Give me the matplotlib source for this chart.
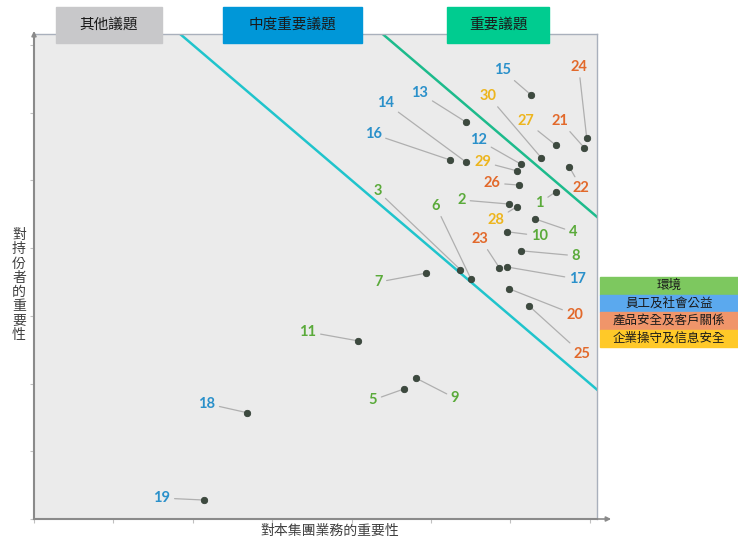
import matplotlib
matplotlib.use("Agg")
import matplotlib.pyplot as plt
from matplotlib.patches import Rectangle

plt.rcParams['font.family'] = ['Noto Sans CJK TC', 'DejaVu Sans']

# ---- data ----
issue_ids = list(range(1, 31))
business_importance = [6.57, 5.98, 5.37, 6.31, 4.66, 5.50, 4.94, 6.13, 4.81, 5.96,
                       4.08, 6.13, 5.44, 5.44, 6.26, 5.24, 5.96, 2.68, 2.14, 5.98,
                       6.93, 6.74, 5.86, 6.96, 6.23, 6.11, 6.57, 6.08, 6.08, 6.39]
stakeholder_importance = [4.83, 4.65, 3.68, 4.43, 1.92, 3.55, 3.63, 3.96, 2.08, 4.24,
                          2.63, 5.24, 5.86, 5.27, 6.26, 5.30, 3.72, 1.57, 0.28, 3.40,
                          5.48, 5.20, 3.71, 5.63, 3.15, 4.93, 5.52, 4.61, 5.14, 5.33]
# category index per issue: 0 環境, 1 員工及社會公益, 2 產品安全及客戶關係, 3 企業操守及信息安全
issue_category = [0] * 11 + [1] * 8 + [2] * 7 + [3] * 4
category_names = ['環境', '員工及社會公益', '產品安全及客戶關係', '企業操守及信息安全']
tier_names = ['其他議題', '中度重要議題', '重要議題']
threshold_sums = [9.0, 11.55]   # x + y boundaries between tiers
x_title = '對本集團業務的重要性'
y_title = '對持份者的重要性'

# ---- style / layout ----
label_colors = ['#5AAA3A', '#2A90CA', '#E2692B', '#EDB51E']
legend_colors = ['#7DC85F', '#5BA9EE', '#F0956A', '#FFC928']
tier_colors = ['#C8C8CA', '#0097D8', '#00CC90']
line_colors = ['#20C4CC', '#1DBB8C']
# label offsets (pixels) relative to each point
label_offsets = [(-16, -11), (-47, 4), (-83, 79), (38, -13), (-31, -11), (-35, 73),
                 (-48, -9), (55, -5), (39, -20), (32, -4), (-50, 9), (-42, 24),
                 (-46, 29), (-80, 59), (-29, 25), (-77, 26), (70, -12), (-40, 9),
                 (-42, 2), (66, -26), (-24, 27), (12, -21), (-19, 29), (-8, 71),
                 (53, -48), (-27, 2), (-30, 24), (-21, -13), (-34, 9), (-53, 62)]

W, H = 738, 542
fig = plt.figure(figsize=(W / 100, H / 100), dpi=100)
x0, x1, y0, y1 = 34, 597, 34, 519
ax = fig.add_axes([x0 / W, 1 - y1 / H, (x1 - x0) / W, (y1 - y0) / H])
ax.set_facecolor('#EBEBEB')
xmax, ymax = 7.09, 7.16
ax.set_xlim(0, xmax)
ax.set_ylim(0, ymax)

for s in ['top', 'right']:
    ax.spines[s].set_color('#A9B0BC')
    ax.spines[s].set_linewidth(1.0)
for s in ['left', 'bottom']:
    ax.spines[s].set_color('#8A8A8A')
    ax.spines[s].set_linewidth(1.5)

ax.set_xticks(range(0, 8))
ax.set_yticks(range(0, 8))
ax.tick_params(length=3, width=0.8, color='#C0C0C0', labelbottom=False, labelleft=False)

# axis arrows
ax.annotate('', xy=(0, 1.012), xytext=(0, 0.98), xycoords='axes fraction',
            arrowprops=dict(arrowstyle='-|>', color='#8A8A8A', lw=1.2, mutation_scale=7),
            annotation_clip=False)
ax.annotate('', xy=(1.03, 0), xytext=(0.99, 0), xycoords='axes fraction',
            arrowprops=dict(arrowstyle='-|>', color='#8A8A8A', lw=1.2, mutation_scale=7),
            annotation_clip=False)

# tier boundary lines
for c, col in zip(threshold_sums, line_colors):
    xs = [c - ymax, xmax]
    ys = [c - x for x in xs]
    ax.plot(xs, ys, color=col, lw=1.8, zorder=2)

# points
ax.scatter(business_importance, stakeholder_importance, s=22, color='#3D4A3F',
           zorder=4, edgecolors='#2E3A30', linewidths=0.5)

for i, (x, y) in enumerate(zip(business_importance, stakeholder_importance)):
    dx, dy = label_offsets[i]
    ax.annotate(str(issue_ids[i]), xy=(x, y), xytext=(dx, dy), textcoords='offset pixels',
                ha='center', va='center', fontsize=10.5, fontweight='bold',
                family=['Lato', 'DejaVu Sans'], color=label_colors[issue_category[i]],
                arrowprops=dict(arrowstyle='-', color='#AFAFAF', lw=0.9,
                                shrinkA=1, shrinkB=2),
                zorder=3)

# tier header boxes
tier_boxes = [(56, 162), (223, 362), (447, 549)]
for (bx0, bx1), name, col in zip(tier_boxes, tier_names, tier_colors):
    fig.patches.append(Rectangle((bx0 / W, 1 - 43 / H), (bx1 - bx0) / W, 36 / H,
                                 transform=fig.transFigure, color=col, zorder=5))
    fig.text((bx0 + bx1) / 2 / W, 1 - 25 / H, name, ha='center', va='center',
             fontsize=10.5, color='#1A1A1A', zorder=6)

# legend boxes
lx0, lx1 = 600, 738
row_tops = [277, 294.5, 312, 329.5]
for top, name, col in zip(row_tops, category_names, legend_colors):
    fig.patches.append(Rectangle((lx0 / W, 1 - (top + 17.5) / H), (lx1 - lx0) / W, 17.5 / H,
                                 transform=fig.transFigure, color=col, zorder=5))
    fig.text((lx0 + lx1) / 2 / W, 1 - (top + 8.75) / H, name, ha='center', va='center',
             fontsize=9, color='#1A1A1A', zorder=6)

# axis titles
fig.text(330 / W, 1 - 531 / H, x_title, ha='center', va='center', fontsize=10, color='#404040')
fig.text(19 / W, 1 - 285 / H, '\n'.join(y_title), ha='center', va='center', fontsize=10,
         color='#404040', linespacing=1.02)

fig.savefig('out.png', dpi=100)
